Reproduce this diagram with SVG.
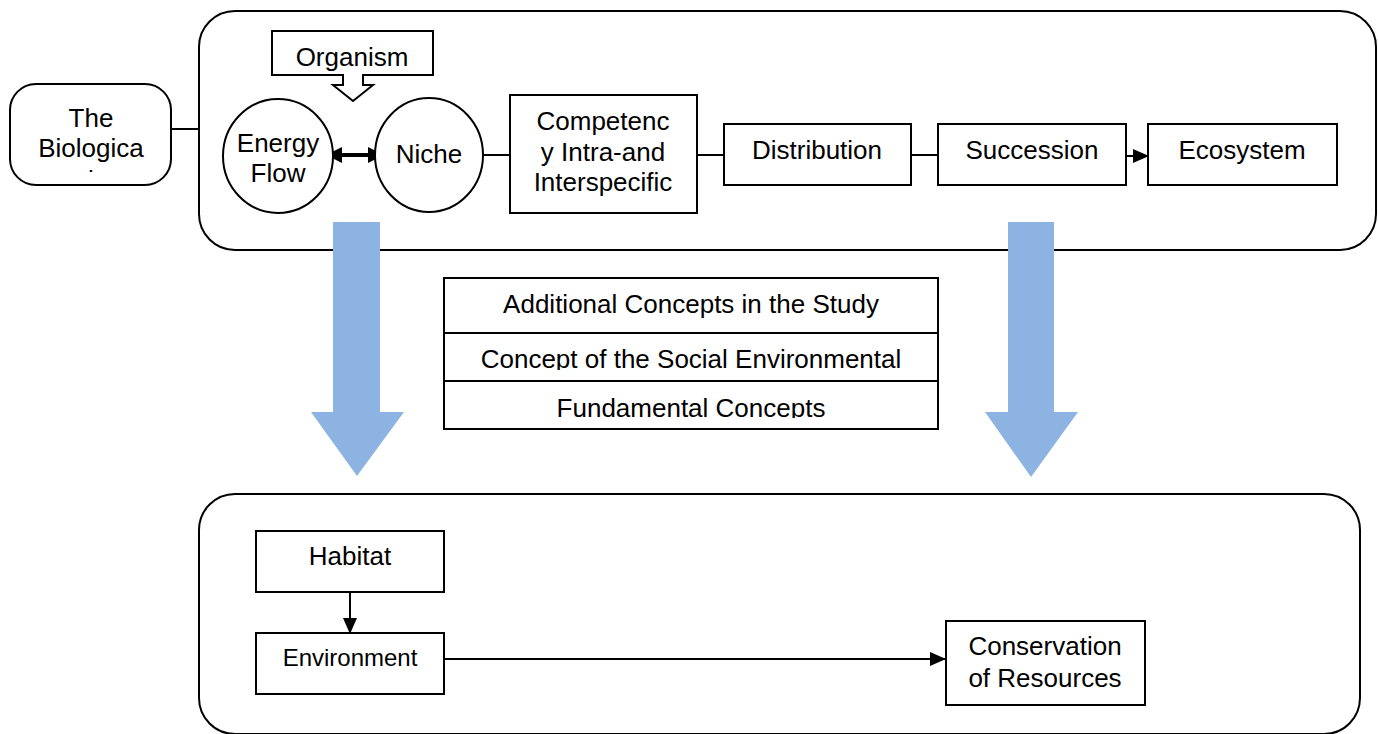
<svg xmlns="http://www.w3.org/2000/svg" width="1378" height="734" viewBox="0 0 1378 734">
<style>
.b{fill:#fff;stroke:#000;stroke-width:2}
.o{fill:none;stroke:#000;stroke-width:2}
.t{font-family:"Liberation Sans",Arial,sans-serif;font-size:26px;fill:#000;text-anchor:middle}
.c{stroke:#000;stroke-width:2;fill:none}
.blue{fill:#8DB3E2}
</style>
<defs>
<marker id="ah" markerWidth="16" markerHeight="14" refX="15" refY="7" orient="auto" markerUnits="userSpaceOnUse"><path d="M0,0 L16,7 L0,14 Z" fill="#000"/></marker>
<marker id="ah2" markerWidth="16" markerHeight="16" refX="15" refY="8" orient="auto-start-reverse" markerUnits="userSpaceOnUse"><path d="M0,0 L16,8 L0,16 Z" fill="#000"/></marker>
<clipPath id="cb"><rect x="10" y="84" width="161" height="88"/></clipPath>
<clipPath id="cs2"><rect x="444" y="333" width="494" height="37"/></clipPath>
<clipPath id="cs3"><rect x="444" y="381" width="494" height="37"/></clipPath>
</defs>
<g id="top-container"><rect class="o" x="199" y="11" width="1177" height="239" rx="36"/></g>
<g id="bottom-container"><rect class="o" x="199" y="494" width="1161" height="240" rx="36"/></g>
<g id="blue-arrows">
<path class="blue" d="M333,222 H380 V412 H404 L357,476 L311,412 H333 Z"/>
<path class="blue" d="M1008,222 H1054 V412 H1078 L1031,477 L985,412 H1008 Z"/>
</g>
<g id="connectors">
<line class="c" x1="171" y1="129" x2="199" y2="129"/>
<line x1="327" y1="155" x2="383" y2="155" stroke="#000" stroke-width="4" marker-start="url(#ah2)" marker-end="url(#ah2)"/>
<line class="c" x1="482" y1="155" x2="510" y2="155"/>
<line class="c" x1="697" y1="155" x2="724" y2="155"/>
<line class="c" x1="911" y1="155" x2="938" y2="155"/>
<line class="c" x1="1126" y1="156" x2="1148" y2="156" marker-end="url(#ah)"/>
<line class="c" x1="350" y1="592" x2="350" y2="633" marker-end="url(#ah)"/>
<line class="c" x1="444" y1="659" x2="945" y2="659" marker-end="url(#ah)"/>
</g>
<g id="biological">
<rect class="b" x="10" y="84" width="161" height="101" rx="26"/>
<g clip-path="url(#cb)">
<text class="t" x="91" y="127">The</text>
<text class="t" x="91" y="157">Biologica</text>
<text class="t" x="91" y="189">l</text>
</g>
</g>
<g id="organism">
<path class="b" d="M272,31 H433 V75 H363 V85 H373 L353,101 L333,85 H343 V75 H272 Z"/>
<text class="t" x="352" y="66">Organism</text>
</g>
<g id="energy-flow">
<ellipse class="b" cx="278" cy="156" rx="55" ry="57"/>
<text class="t" x="278" y="152">Energy</text>
<text class="t" x="278" y="182">Flow</text>
</g>
<g id="niche">
<ellipse class="b" cx="429" cy="155" rx="54" ry="57"/>
<text class="t" x="429" y="163">Niche</text>
</g>
<g id="competency">
<rect class="b" x="510" y="95" width="187" height="118"/>
<text class="t" x="603" y="130">Competenc</text>
<text class="t" x="603" y="161">y Intra-and</text>
<text class="t" x="603" y="191">Interspecific</text>
</g>
<g id="distribution">
<rect class="b" x="724" y="124" width="187" height="61"/>
<text class="t" x="817" y="159">Distribution</text>
</g>
<g id="succession">
<rect class="b" x="938" y="124" width="188" height="61"/>
<text class="t" x="1032" y="159">Succession</text>
</g>
<g id="ecosystem">
<rect class="b" x="1148" y="124" width="189" height="61"/>
<text class="t" x="1242" y="159">Ecosystem</text>
</g>
<g id="concepts">
<rect class="b" x="444" y="278" width="494" height="55"/>
<rect class="b" x="444" y="333" width="494" height="48"/>
<rect class="b" x="444" y="381" width="494" height="48"/>
<text class="t" x="691" y="313">Additional Concepts in the Study</text>
<g clip-path="url(#cs2)"><text class="t" x="691" y="368">Concept of the Social Environmental</text></g>
<g clip-path="url(#cs3)"><text class="t" x="691" y="417">Fundamental Concepts</text></g>
</g>
<g id="habitat">
<rect class="b" x="256" y="531" width="188" height="61"/>
<text class="t" x="350" y="565">Habitat</text>
</g>
<g id="environment">
<rect class="b" x="256" y="633" width="188" height="61"/>
<text class="t" x="350" y="666" style="font-size:24px">Environment</text>
</g>
<g id="conservation">
<rect class="b" x="946" y="621" width="199" height="84"/>
<text class="t" x="1045" y="655">Conservation</text>
<text class="t" x="1045" y="687">of Resources</text>
</g>
</svg>
